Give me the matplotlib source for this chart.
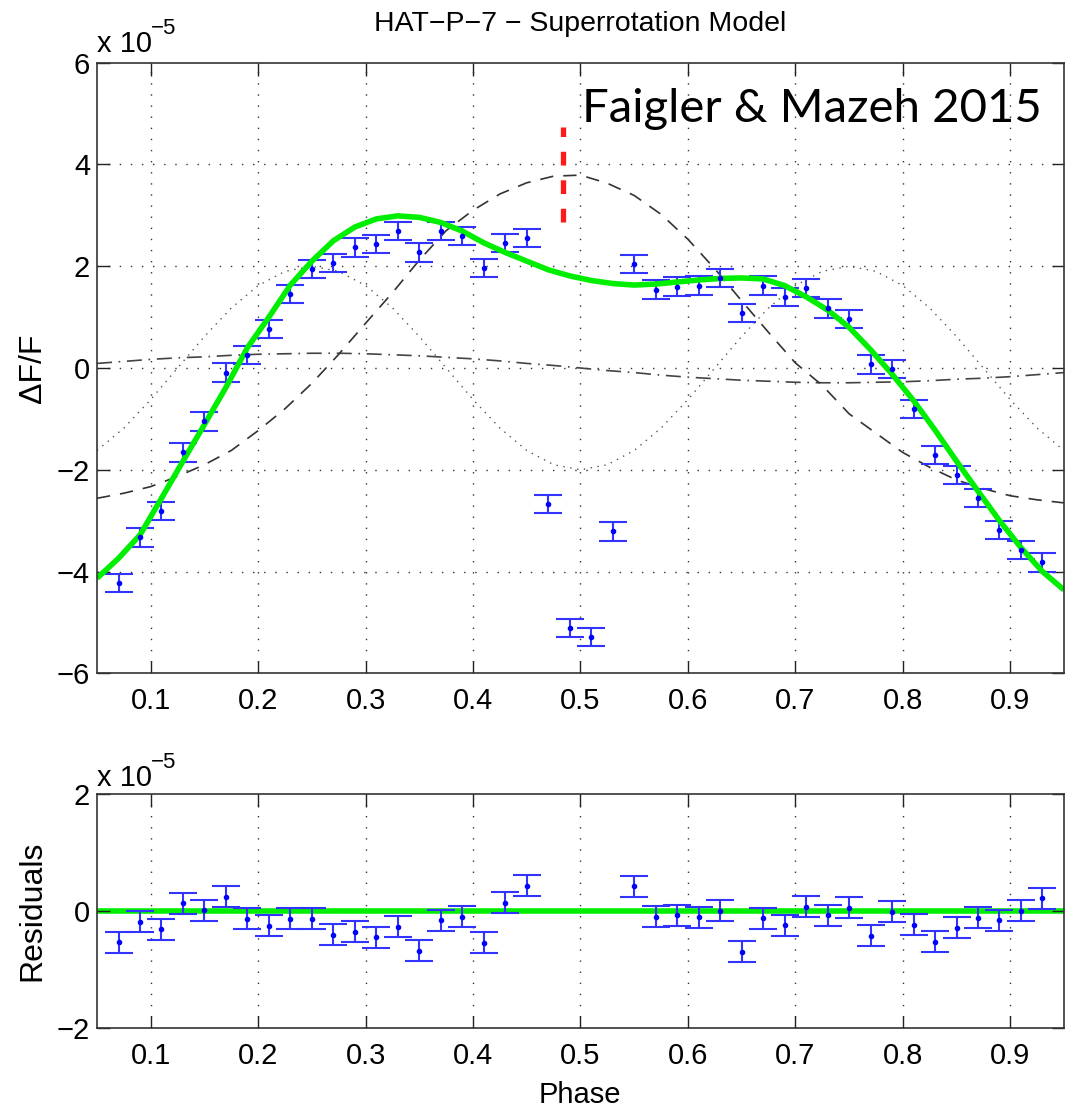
import numpy as np
import matplotlib.pyplot as plt

plt.rcParams['font.family'] = ['Liberation Sans', 'DejaVu Sans']
plt.rcParams['mathtext.default'] = 'regular'

# binned light curve (units of 1e-5)
phase = [0.07, 0.09, 0.11, 0.13, 0.15, 0.17, 0.19, 0.21, 0.23, 0.25, 0.27, 0.29,
         0.31, 0.33, 0.35, 0.37, 0.39, 0.41, 0.43, 0.45, 0.47, 0.49, 0.51, 0.53,
         0.55, 0.57, 0.59, 0.61, 0.63, 0.65, 0.67, 0.69, 0.71, 0.73, 0.75, 0.77,
         0.79, 0.81, 0.83, 0.85, 0.87, 0.89, 0.91, 0.93]
flux = [-4.23, -3.33, -2.81, -1.66, -1.05, -0.09, 0.26, 0.76, 1.45, 1.95, 2.06, 2.37,
        2.44, 2.69, 2.27, 2.69, 2.60, 1.96, 2.45, 2.55, -2.67, -5.11, -5.29, -3.21,
        2.05, 1.54, 1.60, 1.62, 1.77, 1.08, 1.62, 1.40, 1.57, 1.17, 0.96, 0.07,
        -0.02, -0.81, -1.71, -2.10, -2.55, -3.18, -3.58, -3.82]
flux_err = 0.18

res_phase = [0.07, 0.09, 0.11, 0.13, 0.15, 0.17, 0.19, 0.21, 0.23, 0.25, 0.27, 0.29,
             0.31, 0.33, 0.35, 0.37, 0.39, 0.41, 0.43, 0.45,
             0.55, 0.57, 0.59, 0.61, 0.63, 0.65, 0.67, 0.69, 0.71, 0.73, 0.75, 0.77,
             0.79, 0.81, 0.83, 0.85, 0.87, 0.89, 0.91, 0.93]
resid = [-0.53, -0.18, -0.31, 0.14, 0.02, 0.25, -0.13, -0.25, -0.13, -0.13, -0.40, -0.35,
         -0.44, -0.26, -0.67, -0.15, -0.09, -0.54, 0.15, 0.44,
         0.43, -0.09, -0.07, -0.10, 0.01, -0.69, -0.12, -0.24, 0.08, -0.07, 0.06, -0.42,
         -0.01, -0.23, -0.52, -0.28, -0.11, -0.15, 0.01, 0.22]

# full model (green)
model_phase = [0.05, 0.07, 0.09, 0.11, 0.13, 0.15, 0.17, 0.19, 0.21, 0.23, 0.25, 0.27,
               0.29, 0.31, 0.33, 0.35, 0.37, 0.39, 0.41, 0.43, 0.45, 0.47, 0.49, 0.51,
               0.53, 0.55, 0.57, 0.59, 0.61, 0.63, 0.65, 0.67, 0.69, 0.71, 0.73, 0.75,
               0.77, 0.79, 0.81, 0.83, 0.85, 0.87, 0.89, 0.91, 0.93, 0.95]
model_flux = [-4.13, -3.74, -3.28, -2.56, -1.83, -1.11, -0.38, 0.40, 1.00, 1.63, 2.10, 2.50,
              2.77, 2.93, 2.99, 2.96, 2.86, 2.69, 2.46, 2.27, 2.10, 1.93, 1.81, 1.72,
              1.66, 1.63, 1.65, 1.69, 1.73, 1.76, 1.77, 1.75, 1.62, 1.40, 1.14, 0.80,
              0.36, -0.12, -0.64, -1.22, -1.83, -2.42, -3.00, -3.53, -4.00, -4.36]

# components
comp_phase = [0.05, 0.075, 0.10, 0.125, 0.15, 0.175, 0.20, 0.225, 0.25, 0.275, 0.30, 0.325,
              0.35, 0.375, 0.40, 0.425, 0.45, 0.475, 0.50, 0.525, 0.55, 0.575, 0.60, 0.625,
              0.65, 0.675, 0.70, 0.725, 0.75, 0.775, 0.80, 0.825, 0.85, 0.875, 0.90, 0.925, 0.95]
refl = [-2.56, -2.46, -2.33, -2.13, -1.90, -1.62, -1.23, -0.80, -0.30, 0.27, 0.88, 1.48,
        2.12, 2.70, 3.10, 3.42, 3.64, 3.77, 3.79, 3.63, 3.39, 3.02, 2.53, 1.95,
        1.32, 0.70, 0.10, -0.34, -0.90, -1.28, -1.66, -1.95, -2.20, -2.37, -2.51, -2.59, -2.65]
ellip = [-1.62, -1.18, -0.62, 0.00, 0.62, 1.18, 1.62, 1.90, 2.00, 1.90, 1.62, 1.18,
         0.62, 0.00, -0.62, -1.18, -1.62, -1.90, -2.00, -1.90, -1.62, -1.18, -0.62, 0.00,
         0.62, 1.18, 1.62, 1.90, 2.00, 1.90, 1.62, 1.18, 0.62, 0.00, -0.62, -1.18, -1.62]
beam = [0.09, 0.13, 0.17, 0.20, 0.22, 0.25, 0.27, 0.28, 0.29, 0.29, 0.28, 0.26,
        0.24, 0.21, 0.18, 0.14, 0.09, 0.05, 0.00, -0.05, -0.09, -0.14, -0.18, -0.21,
        -0.24, -0.26, -0.28, -0.29, -0.29, -0.28, -0.27, -0.25, -0.22, -0.20, -0.17, -0.13, -0.09]

peak_phase = 0.484
peak_span = [2.86, 4.74]

xticks = [0.1, 0.2, 0.3, 0.4, 0.5, 0.6, 0.7, 0.8, 0.9]

fig = plt.figure(figsize=(10.72, 11.13), dpi=100)
ax1 = fig.add_axes([0.0905, 0.395, 0.902, 0.5487])
ax2 = fig.add_axes([0.0905, 0.0761, 0.902, 0.2102])

grid_style = dict(color='#333333', linestyle=(0, (1, 7)), linewidth=1.0)
tick_fs = 21

def style_axis(ax):
    ax.set_xlim(0.05, 0.95)
    ax.set_xticks(xticks)
    ax.set_xticklabels([f'{t:.1f}' for t in xticks])
    ax.tick_params(direction='in', length=9, width=1.0, top=True, right=True,
                   labelsize=tick_fs, colors='#222222', labelcolor='black')
    ax.tick_params(axis='x', pad=10)
    ax.tick_params(axis='y', pad=5)
    for s in ax.spines.values():
        s.set_linewidth(1.2)
        s.set_color('#333333')

# top panel
ax1.plot(comp_phase, ellip, color='#555555', linestyle=(0, (1, 4)), linewidth=1.0)
ax1.plot(comp_phase, beam, color='#444444', linestyle=(0, (9, 4, 1, 4)), linewidth=1.2)
ax1.plot(comp_phase, refl, color='#333333', linestyle=(0, (8, 6)), linewidth=1.2)
ax1.errorbar(phase, flux, yerr=flux_err, fmt='.', color='#0000ff', ecolor='#3333ff',
             markersize=6, elinewidth=1.5, capsize=10, capthick=1.5)
ax1.plot(model_phase, model_flux, color='#00ee00', linewidth=4.0, solid_capstyle='butt')
ax1.plot([peak_phase, peak_phase], peak_span, color='#ff1a1a', linewidth=3.8,
         linestyle=(0, (2.6, 2.8)))
ax1.set_ylim(-6, 6)
ax1.set_yticks([-6, -4, -2, 0, 2, 4, 6])
ax1.set_yticklabels(['\u22126', '\u22124', '\u22122', '0', '2', '4', '6'])
for t in xticks:
    ax1.axvline(t, zorder=0, **grid_style)
for t in [-4, -2, 0, 2, 4]:
    ax1.axhline(t, zorder=0, **grid_style)
style_axis(ax1)

# residual panel
ax2.axhline(0, color='#00ee00', linewidth=4.0, zorder=1)
ax2.errorbar(res_phase, resid, yerr=flux_err, fmt='.', color='#0000ff', ecolor='#3333ff',
             markersize=6, elinewidth=1.5, capsize=10, capthick=1.5, zorder=3)
ax2.set_ylim(-2, 2)
ax2.set_yticks([-2, 0, 2])
ax2.set_yticklabels(['\u22122', '0', '2'])
for t in xticks:
    ax2.axvline(t, zorder=0, **grid_style)
style_axis(ax2)

# labels
fig.text(580 / 1072, 1 - 24 / 1113, 'HAT\u2212P\u22127 \u2212 Superrotation Model',
         ha='center', va='center', fontsize=20.5)
fig.text(582 / 1072, 1 - 122 / 1113, 'Faigler & Mazeh 2015', ha='left', va='baseline',
         fontsize=34, family=['Lato', 'DejaVu Sans'])
for y_base, y_sup in [(52, 34), (786, 768)]:
    fig.text(97 / 1072, 1 - y_base / 1113, 'x 10', ha='left', va='baseline', fontsize=21)
    fig.text(151 / 1072, 1 - y_sup / 1113, '\u22125', ha='left', va='baseline', fontsize=16)
fig.text(33 / 1072, 1 - 368 / 1113, '\u0394F/F', rotation=90, ha='center', va='center',
         fontsize=23)
fig.text(32 / 1072, 1 - 911 / 1113, 'Residuals', rotation=90, ha='center', va='center',
         fontsize=23)
fig.text(580 / 1072, 1 - 1095 / 1113, 'Phase', ha='center', va='center', fontsize=21)

fig.savefig('out.png', dpi=100)
